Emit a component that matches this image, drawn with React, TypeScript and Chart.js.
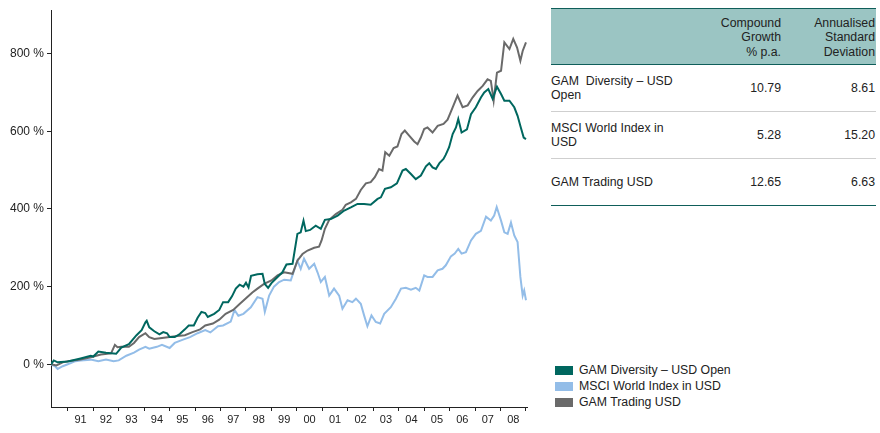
import React, { useEffect, useRef } from "react";
import { Chart, registerables } from "chart.js";

Chart.register(...registerables);

const diversityDates = [1990.34,1990.45,1990.6,1991.0,1991.5,1991.9,1992.0,1992.2,1992.5,1992.9,1993.1,1993.4,1993.7,1993.9,1994.05,1994.1,1994.2,1994.4,1994.6,1994.75,1994.9,1995.0,1995.2,1995.4,1995.6,1995.75,1995.95,1996.1,1996.25,1996.4,1996.5,1996.75,1996.95,1997.1,1997.3,1997.45,1997.6,1997.75,1997.9,1998.0,1998.1,1998.2,1998.45,1998.65,1998.74,1998.87,1999.0,1999.24,1999.43,1999.59,1999.83,2000.02,2000.15,2000.26,2000.35,2000.52,2000.74,2000.94,2001.1,2001.33,2001.6,2001.86,2002.12,2002.38,2002.64,2002.9,2003.17,2003.3,2003.46,2003.69,2003.93,2004.15,2004.28,2004.48,2004.67,2004.87,2005.07,2005.2,2005.33,2005.46,2005.6,2005.76,2005.85,2005.98,2006.12,2006.25,2006.34,2006.47,2006.68,2006.84,2007.03,2007.23,2007.36,2007.52,2007.69,2007.86,2008.02,2008.15,2008.35,2008.54,2008.67,2008.78,2008.91,2009.0];
const diversityValues = [0,10,5,7,15,22,20,33,30,27,43,52,75,88,108,112,95,85,77,83,80,70,70,78,90,100,100,120,135,132,122,130,140,160,160,175,195,205,200,210,198,228,232,233,207,197,209,225,237,257,259,336,340,370,343,346,357,349,372,374,383,396,404,413,413,411,426,430,452,456,466,499,503,490,477,486,510,518,507,503,518,529,540,559,593,610,632,597,605,644,662,687,700,709,684,715,696,679,679,662,640,614,584,580];

const tradingDates = [1990.34,1990.55,1990.8,1991.0,1991.5,1991.9,1992.3,1992.7,1992.85,1992.95,1993.1,1993.4,1993.6,1993.8,1994.05,1994.2,1994.4,1994.7,1995.0,1995.3,1995.6,1995.9,1996.2,1996.4,1996.7,1996.95,1997.2,1997.5,1997.75,1998.0,1998.25,1998.45,1998.71,1999.0,1999.24,1999.5,1999.83,2000.02,2000.22,2000.42,2000.68,2000.87,2000.97,2001.1,2001.27,2001.53,2001.79,2001.92,2002.12,2002.32,2002.51,2002.71,2002.9,2003.06,2003.23,2003.36,2003.47,2003.63,2003.8,2003.95,2004.11,2004.24,2004.41,2004.61,2004.74,2004.87,2005.0,2005.13,2005.33,2005.53,2005.76,2005.92,2006.12,2006.31,2006.51,2006.71,2006.9,2007.1,2007.3,2007.49,2007.62,2007.73,2007.86,2008.02,2008.15,2008.35,2008.5,2008.65,2008.78,2008.87,2009.0];
const tradingValues = [0,-3,5,8,12,18,25,28,50,44,45,45,55,70,80,70,65,68,70,73,75,83,90,100,105,115,130,140,155,170,185,195,207,216,229,237,233,267,284,293,300,303,319,349,372,387,398,411,417,426,449,466,469,482,503,499,546,537,557,561,593,602,589,574,567,584,606,610,597,614,619,630,662,692,662,667,687,704,717,734,730,679,751,756,829,812,838,816,782,807,829];

const msciDates = [1990.34,1990.5,1990.6,1990.8,1991.0,1991.3,1991.5,1991.9,1992.2,1992.5,1992.8,1993.0,1993.3,1993.6,1993.8,1994.05,1994.2,1994.5,1994.7,1995.0,1995.2,1995.5,1995.8,1996.1,1996.4,1996.6,1996.9,1997.1,1997.4,1997.55,1997.7,1997.9,1998.19,1998.45,1998.65,1998.74,1998.91,1999.1,1999.3,1999.5,1999.76,2000.02,2000.15,2000.28,2000.48,2000.68,2000.81,2000.94,2001.1,2001.27,2001.46,2001.66,2001.79,2001.99,2002.18,2002.32,2002.51,2002.64,2002.77,2002.93,2003.1,2003.27,2003.43,2003.69,2003.89,2004.09,2004.28,2004.48,2004.67,2004.81,2005.0,2005.13,2005.33,2005.53,2005.72,2005.85,2006.05,2006.2,2006.34,2006.47,2006.64,2006.84,2007.03,2007.23,2007.43,2007.62,2007.75,2007.85,2008.02,2008.15,2008.28,2008.41,2008.54,2008.67,2008.78,2008.87,2008.93,2009.0];
const msciValues = [0,-5,-12,-5,0,8,10,12,8,12,8,10,22,30,38,45,40,45,50,42,55,63,70,80,88,82,98,100,110,140,125,130,147,173,169,135,177,200,212,218,216,267,246,272,246,259,237,212,225,177,195,177,143,165,160,169,156,126,98,126,109,105,130,147,169,195,197,192,197,190,229,225,225,242,246,255,278,285,297,285,289,319,336,344,380,370,383,405,370,340,336,365,332,315,225,177,190,165];

const yearTicks = [1991,1992,1993,1994,1995,1996,1997,1998,1999,2000,2001,2002,2003,2004,2005,2006,2007,2008,2009];
const yearLabels = ["91","92","93","94","95","96","97","98","99","00","01","02","03","04","05","06","07","08"];
const yTicks = [0, 200, 400, 600, 800];

const seriesNames = ["GAM Diversity – USD Open", "MSCI World Index in USD", "GAM Trading USD"];
const seriesColors = ["#00675f", "#93bde8", "#6a6a6a"];

const tableHeader = ["", "Compound\nGrowth\n% p.a.", "Annualised\nStandard\nDeviation"];
const tableRows = [
  ["GAM  Diversity – USD\nOpen", "10.79", "8.61"],
  ["MSCI World Index in\nUSD", "5.28", "15.20"],
  ["GAM Trading USD", "12.65", "6.63"],
];

const FONT = "'Liberation Sans', Arial, sans-serif";

function zip(d: number[], v: number[]) {
  return d.map((x, i) => ({ x, y: v[i] }));
}

export default function App() {
  const ref = useRef<HTMLCanvasElement | null>(null);

  useEffect(() => {
    document.body.style.margin = "0";
    if (!ref.current) return;
    const xTickValues: number[] = [];
    yearTicks.forEach((y, i) => {
      xTickValues.push(y);
      if (i < yearLabels.length) xTickValues.push(y + 0.5);
    });
    const chart = new Chart(ref.current, {
      type: "line",
      data: {
        datasets: [
          { label: seriesNames[0], data: zip(diversityDates, diversityValues), borderColor: seriesColors[0], borderWidth: 2, pointRadius: 0, tension: 0 },
          { label: seriesNames[2], data: zip(tradingDates, tradingValues), borderColor: seriesColors[2], borderWidth: 2, pointRadius: 0, tension: 0 },
          { label: seriesNames[1], data: zip(msciDates, msciValues), borderColor: seriesColors[1], borderWidth: 2, pointRadius: 0, tension: 0 },
        ],
      },
      options: {
        animation: false,
        responsive: false,
        maintainAspectRatio: false,
        layout: { padding: { left: 0, right: 13, top: 9, bottom: 0 } },
        plugins: { legend: { display: false }, tooltip: { enabled: false } },
        scales: {
          x: {
            type: "linear",
            min: 1990.34,
            max: 2009.04,
            afterBuildTicks: (s: any) => { s.ticks = xTickValues.map((v) => ({ value: v })); },
            afterFit: (s: any) => { s.height = 26; },
            grid: {
              drawOnChartArea: false,
              drawTicks: true,
              tickLength: 4,
              tickColor: (ctx: any) => (ctx.tick && Math.abs(ctx.tick.value - Math.round(ctx.tick.value)) < 0.01 ? "#222" : "rgba(0,0,0,0)"),
            },
            border: { display: true, color: "#222", width: 1 },
            ticks: {
              autoSkip: false,
              maxRotation: 0,
              padding: 2,
              color: "#222",
              font: { family: FONT, size: 11 },
              callback: (v: any) => {
                const n = Number(v);
                if (Math.abs(n - Math.round(n)) < 0.01) return "";
                const idx = Math.floor(n) - 1991;
                return yearLabels[idx] ?? "";
              },
            },
          },
          y: {
            type: "linear",
            min: -110,
            max: 912,
            afterBuildTicks: (s: any) => { s.ticks = yTicks.map((v) => ({ value: v })); },
            afterFit: (s: any) => { s.width = 51; },
            grid: { drawOnChartArea: false, drawTicks: true, tickLength: 4, tickColor: "#222" },
            border: { display: true, color: "#222", width: 1 },
            ticks: {
              padding: 3,
              color: "#222",
              font: { family: FONT, size: 12 },
              callback: (v: any) => `${v} %`,
            },
          },
        },
      },
    });
    return () => chart.destroy();
  }, []);

  const textStyle: React.CSSProperties = { fontFamily: FONT, fontSize: "12.3px", color: "#222", lineHeight: "14.4px" };

  return (
    <div style={{ position: "relative", width: 880, height: 433, background: "#fff", overflow: "hidden" }}>
      <canvas ref={ref} width={540} height={433} style={{ position: "absolute", left: 0, top: 0, width: 540, height: 433 }} />
      <div style={{ position: "absolute", left: 551, top: 8, width: 325, ...textStyle }}>
        <div style={{ height: 57, background: "#9bc5c3", borderTop: "1px solid #0f5e5a", borderBottom: "1px solid #0f5e5a", position: "relative", boxSizing: "border-box" }}>
          <div style={{ position: "absolute", right: 95, top: 7, textAlign: "right", whiteSpace: "pre" }}>{tableHeader[1]}</div>
          <div style={{ position: "absolute", right: 1, top: 7, textAlign: "right", whiteSpace: "pre" }}>{tableHeader[2]}</div>
        </div>
        {tableRows.map((r, i) => (
          <div key={i} style={{ height: 47, position: "relative", boxSizing: "border-box", borderBottom: i === tableRows.length - 1 ? "1px solid #0f5e5a" : "1px solid #cfcfcf" }}>
            <div style={{ position: "absolute", left: 0, top: 0, height: 46, display: "flex", alignItems: "center", whiteSpace: "pre" }}>{r[0]}</div>
            <div style={{ position: "absolute", right: 95, top: 0, height: 46, display: "flex", alignItems: "center" }}>{r[1]}</div>
            <div style={{ position: "absolute", right: 1, top: 0, height: 46, display: "flex", alignItems: "center" }}>{r[2]}</div>
          </div>
        ))}
      </div>
      <div style={{ position: "absolute", left: 555, top: 363, ...textStyle, lineHeight: "15.8px" }}>
        {seriesNames.map((n, i) => (
          <div key={i} style={{ display: "flex", alignItems: "center", height: 15.8 }}>
            <span style={{ display: "inline-block", width: 18, height: 9, background: seriesColors[i], marginRight: 6 }} />
            <span>{n}</span>
          </div>
        ))}
      </div>
    </div>
  );
}
